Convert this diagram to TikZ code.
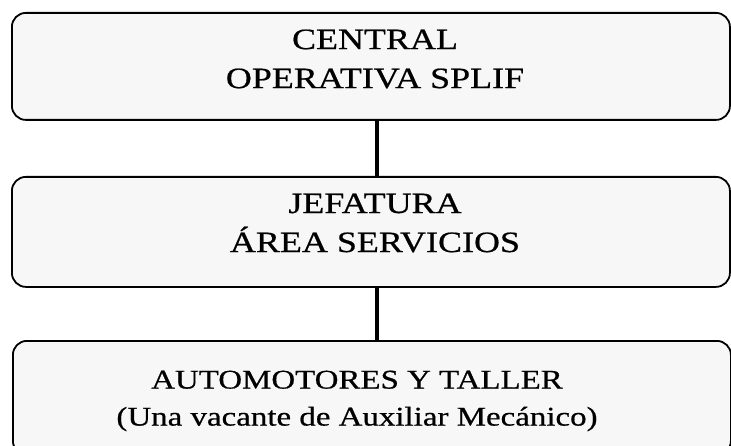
\documentclass[tikz,border=0pt]{standalone}
\usepackage{fontspec}
\setmainfont[FakeStretch=1.22,FakeBold=0.6]{Liberation Serif}
\begin{document}
\begin{tikzpicture}[x=1bp,y=-1bp,
  orgbox/.style={draw=black, line width=1.8bp, rounded corners=14bp, fill=black!3, anchor=north west, inner sep=0pt},
  lbl/.style={align=center, inner sep=0pt, font=\fontsize{29.5bp}{39bp}\selectfont},
  lblsmall/.style={align=center, inner sep=0pt, font=\fontsize{27bp}{37bp}\selectfont},
  conn/.style={draw=black, line width=4.5bp}]
\useasboundingbox (0,0) rectangle (731,446);
\clip (0,0) rectangle (731,446);
\node[orgbox, minimum width=718bp, minimum height=107bp] (b1) at (11,12) {};
\node[orgbox, minimum width=718bp, minimum height=110bp] (b2) at (11,176) {};
\node[orgbox, minimum width=718bp, minimum height=114bp] (b3) at (12,340) {};
\node[lbl] (t1) at (375,59) {CENTRAL\\OPERATIVA SPLIF};
\node[lbl] (t2) at (375,223) {JEFATURA\\ÁREA SERVICIOS};
\node[lblsmall] (t3) at (357,401) {AUTOMOTORES Y TALLER\\(Una vacante de Auxiliar Mecánico)};
\coordinate (cx) at (377,0);
\draw[conn] (b1.south -| cx) -- (b2.north -| cx);
\draw[conn] (b2.south -| cx) -- (b3.north -| cx);
\end{tikzpicture}
\end{document}
